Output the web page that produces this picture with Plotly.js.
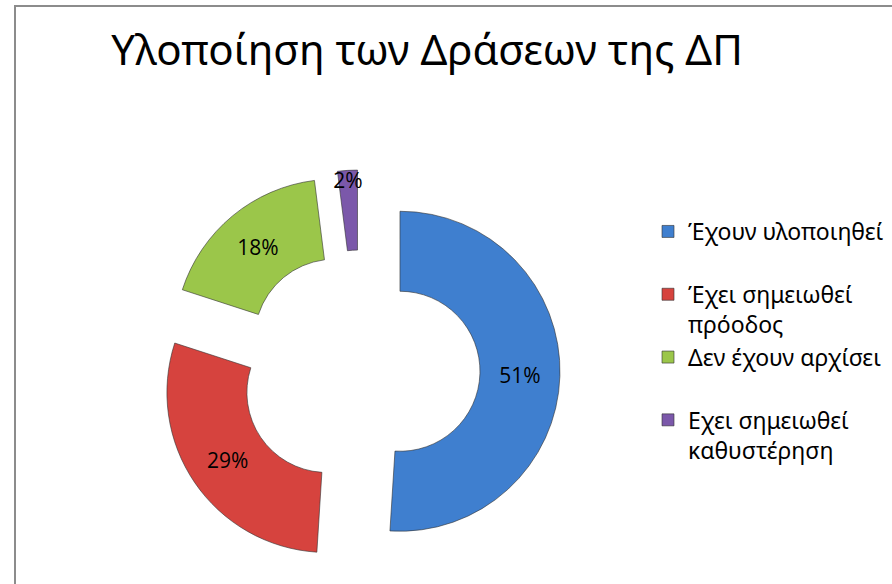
<!DOCTYPE html>
<html>
<head>
<meta charset="utf-8">
<script src="https://cdn.plot.ly/plotly-3.0.1.min.js"></script>
<style>
  html, body { margin: 0; padding: 0; background: #fff; }
  #frame { position: absolute; left: 14px; top: 5px; width: 900px; height: 600px; border: 2px solid #8c8c8c; box-sizing: border-box; }
  #plot { position: absolute; left: 0; top: 0; width: 892px; height: 584px; }
</style>
</head>
<body>
<div id="frame"></div>
<div id="plot"></div>
<script>
// Δεδομένα
const categorias = ['Έχουν υλοποιηθεί', 'Έχει σημειωθεί<br>πρόοδος', 'Δεν έχουν αρχίσει', 'Εχει σημειωθεί<br>καθυστέρηση'];
const valores = [51, 29, 18, 2];
const colores = ['#3f7fcf', '#d6433e', '#9bc64a', '#7b58aa'];

// Las etiquetas de una sola línea llevan una línea vacía para igualar el alto
const etiquetas = categorias.map(c => c.includes('<br>') ? c : c + '<br>\u00a0');

const data = [{
  type: 'pie',
  labels: etiquetas,
  values: valores,
  sort: false,
  direction: 'clockwise',
  rotation: 0,
  hole: 0.5,
  pull: [0.25, 0.25, 0.25, 0.25],
  domain: { x: [160 / 892, 560 / 892], y: [1 - 570 / 584, 1 - 170 / 584] },
  marker: { colors: colores, line: { color: 'rgba(50,50,50,0.6)', width: 1 } },
  textinfo: 'percent',
  texttemplate: '%{percent:.0%}',
  textposition: 'inside',
  insidetextorientation: 'horizontal',
  textfont: { family: 'Open Sans, sans-serif', size: 21, color: '#000' },
  hoverinfo: 'none'
}];

const layout = {
  width: 892,
  height: 584,
  margin: { l: 0, r: 0, t: 0, b: 0 },
  paper_bgcolor: 'rgba(0,0,0,0)',
  plot_bgcolor: 'rgba(0,0,0,0)',
  title: {
    text: 'Υλοποίηση των Δράσεων της ΔΠ',
    font: { family: 'Noto Sans, sans-serif', size: 42, color: '#000' },
    x: 427 / 892, xanchor: 'center',
    y: 1 - 50 / 584, yanchor: 'middle'
  },
  uniformtext: { mode: 'show', minsize: 21 },
  showlegend: true,
  legend: {
    x: 648 / 892, xanchor: 'left',
    y: 1 - 210 / 584, yanchor: 'top',
    valign: 'top',
    font: { family: 'Noto Sans, sans-serif', size: 23, color: '#000' },
    bgcolor: 'rgba(0,0,0,0)'
  }
};

Plotly.newPlot('plot', data, layout, { staticPlot: true });
</script>
</body>
</html>
